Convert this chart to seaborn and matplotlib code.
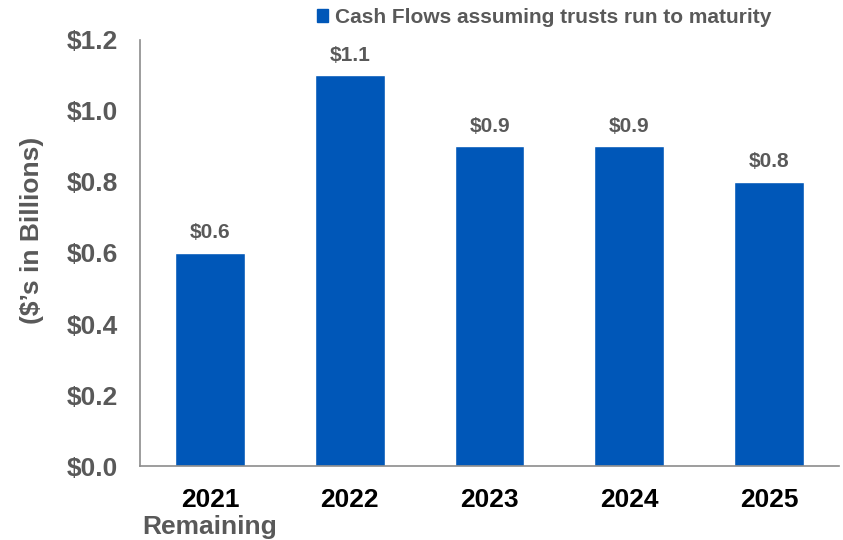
import pandas as pd
import matplotlib.pyplot as plt
import seaborn as sns
from matplotlib.patches import Patch
from matplotlib.ticker import FixedLocator

# Chart data
years = ['2021', '2022', '2023', '2024', '2025']
cash_flows = [0.6, 1.1, 0.9, 0.9, 0.8]
bar_labels = ['$0.6', '$1.1', '$0.9', '$0.9', '$0.8']
y_ticks = [0.0, 0.2, 0.4, 0.6, 0.8, 1.0, 1.2]
y_tick_labels = ['$0.0', '$0.2', '$0.4', '$0.6', '$0.8', '$1.0', '$1.2']
series_name = 'Cash Flows assuming trusts run to maturity'

data = pd.DataFrame({'year': years, 'cash': cash_flows})

sns.set_style('white')
plt.rcParams['font.family'] = ['Liberation Sans', 'DejaVu Sans']
plt.rcParams['font.weight'] = 'bold'

bar_color = '#0057B8'
gray = '#595959'
spine_gray = '#8C8C8C'

fig = plt.figure(figsize=(8.43, 5.40), dpi=100)
ax = fig.add_axes([0.1661, 0.137, 0.8292, 0.789])

sns.barplot(data=data, x='year', y='cash', color=bar_color, width=0.5,
            saturation=1, ax=ax)

# value labels above bars
for i, (v, lab) in enumerate(zip(cash_flows, bar_labels)):
    ax.text(i, v + 0.03, lab, ha='center', va='bottom', fontsize=15,
            fontweight='bold', color=gray)

ax.set_ylim(0, 1.2)
ax.set_xlim(-0.5, len(years) - 0.5)
ax.set_yticks(y_ticks)
ax.set_yticklabels(y_tick_labels, fontsize=19, fontweight='bold', color=gray)
ax.set_xticks(range(len(years)))
ax.set_xticklabels(years, fontsize=19, fontweight='bold', color='black')
ax.tick_params(axis='x', which='major', length=0, pad=16)
ax.xaxis.set_minor_locator(FixedLocator([i - 0.5 for i in range(len(years) + 1)]))
ax.tick_params(axis='x', which='minor', length=7, color=spine_gray, width=1.2)
ax.tick_params(axis='y', length=5, color=spine_gray, width=1.2, pad=11)

ax.text(0, -0.173, 'Remaining', transform=ax.transData, ha='center', va='center',
        fontsize=19, fontweight='bold', color=gray, clip_on=False)

ax.set_xlabel('')
ax.set_ylabel("($\u2019s in Billions)", fontsize=19, fontweight='bold', color=gray)
ax.yaxis.set_label_coords(-0.137, 0.554)

for side in ['top', 'right']:
    ax.spines[side].set_visible(False)
for side in ['left', 'bottom']:
    ax.spines[side].set_color(spine_gray)
    ax.spines[side].set_linewidth(1.2)

fig.legend(handles=[Patch(color=bar_color, label=series_name)],
           loc='center left', bbox_to_anchor=(0.376, 0.968), frameon=False,
           handlelength=0.55, handleheight=0.55, handletextpad=0.3,
           prop={'size': 15, 'weight': 'bold'}, labelcolor=gray,
           borderpad=0, borderaxespad=0)

plt.savefig('out.png', dpi=100)
